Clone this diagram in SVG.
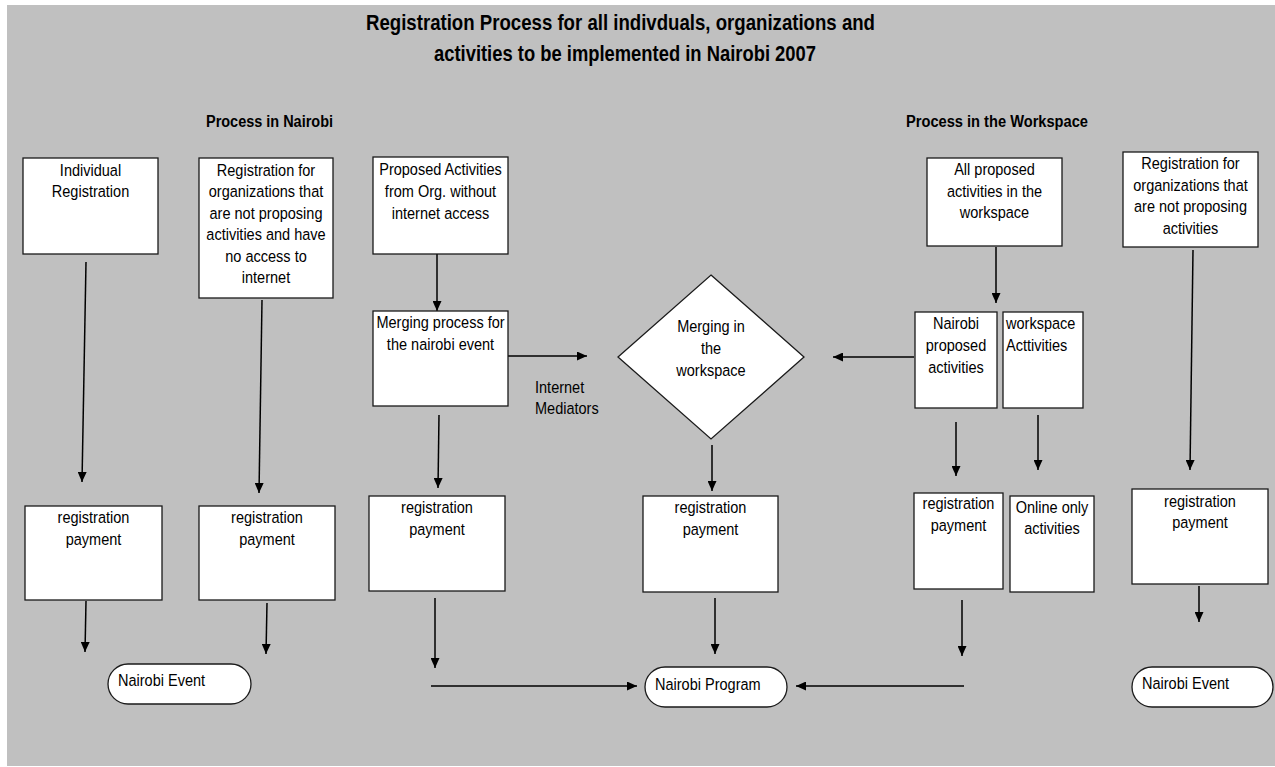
<svg xmlns="http://www.w3.org/2000/svg" width="1275" height="767" viewBox="0 0 1275 767">
<style>
.bg{fill:#c0c0c0}
.box{fill:#fff;stroke:#1a1a1a;stroke-width:1.3}
.t{font-family:"Liberation Sans",Arial,sans-serif;font-size:16.5px;fill:#000}
.c{text-anchor:middle}
.h{font-family:"Liberation Sans",Arial,sans-serif;font-weight:bold;fill:#000}
.ln{fill:none;stroke:#000;stroke-width:1.5}
.arr{marker-end:url(#ah)}
</style>
<defs>
<marker id="ah" markerUnits="userSpaceOnUse" markerWidth="10" markerHeight="9" refX="10" refY="4.5" orient="auto">
<path d="M0,0 L10,4.5 L0,9 z" fill="#000"/>
</marker>
</defs>
<rect class="bg" x="7" y="5" width="1268" height="761"/>
<g id="title">
<text class="h" x="366" y="30" font-size="22" textLength="509" lengthAdjust="spacingAndGlyphs">Registration Process for all indivduals, organizations and</text>
<text class="h" x="434" y="61" font-size="22" textLength="382" lengthAdjust="spacingAndGlyphs">activities to be implemented in Nairobi 2007</text>
</g>
<g id="head-nairobi"><text class="h" x="206" y="127" font-size="16" textLength="127" lengthAdjust="spacingAndGlyphs">Process in Nairobi</text></g>
<g id="head-workspace"><text class="h" x="906" y="127" font-size="16" textLength="182" lengthAdjust="spacingAndGlyphs">Process in the Workspace</text></g>

<g id="connectors">
<line class="ln arr" x1="86" y1="262" x2="82" y2="482"/>
<line class="ln arr" x1="262" y1="300" x2="259" y2="493"/>
<line class="ln arr" x1="437" y1="254" x2="437" y2="311"/>
<line class="ln arr" x1="508" y1="356" x2="587" y2="356"/>
<line class="ln arr" x1="439" y1="415" x2="438" y2="488"/>
<line class="ln arr" x1="712" y1="445" x2="712" y2="491"/>
<line class="ln arr" x1="914" y1="357" x2="833" y2="357"/>
<line class="ln arr" x1="996" y1="247" x2="996" y2="303"/>
<line class="ln arr" x1="956" y1="422" x2="956" y2="476"/>
<line class="ln arr" x1="1038" y1="415" x2="1038" y2="470"/>
<line class="ln arr" x1="1193" y1="250" x2="1190" y2="470"/>
<line class="ln arr" x1="1199" y1="586" x2="1199" y2="622"/>
<line class="ln arr" x1="86" y1="601" x2="85" y2="652"/>
<line class="ln arr" x1="267" y1="603" x2="266" y2="654"/>
<line class="ln arr" x1="435" y1="598" x2="435" y2="668"/>
<line class="ln arr" x1="431" y1="686" x2="637" y2="686"/>
<line class="ln arr" x1="715" y1="598" x2="715" y2="654"/>
<line class="ln arr" x1="962" y1="600" x2="962" y2="656"/>
<line class="ln arr" x1="964" y1="686" x2="796" y2="686"/>
</g>

<g id="individual-registration">
<rect class="box" x="23" y="158" width="135" height="96"/>
<text class="t c" transform="translate(90.5 176) scale(0.88 1)"><tspan x="0" y="0">Individual</tspan><tspan x="0" y="21.5">Registration</tspan></text>
</g>
<g id="org-registration-nairobi">
<rect class="box" x="199" y="158" width="134" height="140"/>
<text class="t c" transform="translate(266 176) scale(0.88 1)"><tspan x="0" y="0">Registration for</tspan><tspan x="0" y="21.5">organizations that</tspan><tspan x="0" y="43">are not proposing</tspan><tspan x="0" y="64.5">activities and have</tspan><tspan x="0" y="86">no access to</tspan><tspan x="0" y="107.5">internet</tspan></text>
</g>
<g id="proposed-activities">
<rect class="box" x="373" y="157" width="135" height="97"/>
<text class="t c" transform="translate(440.5 175) scale(0.88 1)"><tspan x="0" y="0">Proposed Activities</tspan><tspan x="0" y="22">from Org. without</tspan><tspan x="0" y="44">internet access</tspan></text>
</g>
<g id="merging-process">
<rect class="box" x="373" y="311" width="135" height="95"/>
<text class="t c" transform="translate(440.5 328) scale(0.88 1)"><tspan x="0" y="0">Merging process for</tspan><tspan x="0" y="22">the nairobi event</tspan></text>
</g>
<g id="internet-mediators">
<text class="t" transform="translate(535 393) scale(0.88 1)"><tspan x="0" y="0">Internet</tspan><tspan x="0" y="21">Mediators</tspan></text>
</g>
<g id="merging-workspace">
<polygon class="box" points="711,275 804,357 711,439 618,357"/>
<text class="t c" transform="translate(711 332) scale(0.88 1)"><tspan x="0" y="0">Merging in</tspan><tspan x="0" y="22">the</tspan><tspan x="0" y="44">workspace</tspan></text>
</g>
<g id="all-proposed">
<rect class="box" x="927" y="158" width="135" height="88"/>
<text class="t c" transform="translate(994.5 175) scale(0.88 1)"><tspan x="0" y="0">All proposed</tspan><tspan x="0" y="22">activities in the</tspan><tspan x="0" y="43">workspace</tspan></text>
</g>
<g id="org-registration-workspace">
<rect class="box" x="1123" y="152" width="135" height="95"/>
<text class="t c" transform="translate(1190.5 169) scale(0.88 1)"><tspan x="0" y="0">Registration for</tspan><tspan x="0" y="22">organizations that</tspan><tspan x="0" y="43">are not proposing</tspan><tspan x="0" y="65">activities</tspan></text>
</g>
<g id="nairobi-proposed">
<rect class="box" x="915" y="312" width="82" height="96"/>
<text class="t c" transform="translate(956 329) scale(0.88 1)"><tspan x="0" y="0">Nairobi</tspan><tspan x="0" y="22">proposed</tspan><tspan x="0" y="44">activities</tspan></text>
</g>
<g id="workspace-activities">
<rect class="box" x="1003" y="312" width="80" height="96"/>
<text class="t" transform="translate(1006 329) scale(0.88 1)"><tspan x="0" y="0">workspace</tspan><tspan x="0" y="22">Acttivities</tspan></text>
</g>
<g id="payment-1">
<rect class="box" x="25" y="506" width="137" height="94"/>
<text class="t c" transform="translate(93.5 523) scale(0.88 1)"><tspan x="0" y="0">registration</tspan><tspan x="0" y="22">payment</tspan></text>
</g>
<g id="payment-2">
<rect class="box" x="199" y="506" width="136" height="94"/>
<text class="t c" transform="translate(267 523) scale(0.88 1)"><tspan x="0" y="0">registration</tspan><tspan x="0" y="22">payment</tspan></text>
</g>
<g id="payment-3">
<rect class="box" x="369" y="496" width="136" height="95"/>
<text class="t c" transform="translate(437 513) scale(0.88 1)"><tspan x="0" y="0">registration</tspan><tspan x="0" y="22">payment</tspan></text>
</g>
<g id="payment-4">
<rect class="box" x="643" y="496" width="135" height="96"/>
<text class="t c" transform="translate(710.5 513) scale(0.88 1)"><tspan x="0" y="0">registration</tspan><tspan x="0" y="22">payment</tspan></text>
</g>
<g id="payment-5">
<rect class="box" x="914" y="493" width="89" height="96"/>
<text class="t c" transform="translate(958.5 509) scale(0.88 1)"><tspan x="0" y="0">registration</tspan><tspan x="0" y="22">payment</tspan></text>
</g>
<g id="online-only">
<rect class="box" x="1010" y="496" width="84" height="96"/>
<text class="t c" transform="translate(1052 513) scale(0.88 1)"><tspan x="0" y="0">Online only</tspan><tspan x="0" y="21.5">activities</tspan></text>
</g>
<g id="payment-6">
<rect class="box" x="1132" y="489" width="136" height="95"/>
<text class="t c" transform="translate(1200 507) scale(0.88 1)"><tspan x="0" y="0">registration</tspan><tspan x="0" y="21.5">payment</tspan></text>
</g>
<g id="nairobi-event-left">
<rect class="box" x="108" y="664" width="143" height="40" rx="20" ry="20"/>
<text class="t" transform="translate(118 686) scale(0.88 1)">Nairobi Event</text>
</g>
<g id="nairobi-program">
<rect class="box" x="645" y="667" width="142" height="40" rx="20" ry="20"/>
<text class="t" transform="translate(655 690) scale(0.88 1)">Nairobi Program</text>
</g>
<g id="nairobi-event-right">
<rect class="box" x="1132" y="667" width="141" height="40" rx="20" ry="20"/>
<text class="t" transform="translate(1142 689) scale(0.88 1)">Nairobi Event</text>
</g>
</svg>
